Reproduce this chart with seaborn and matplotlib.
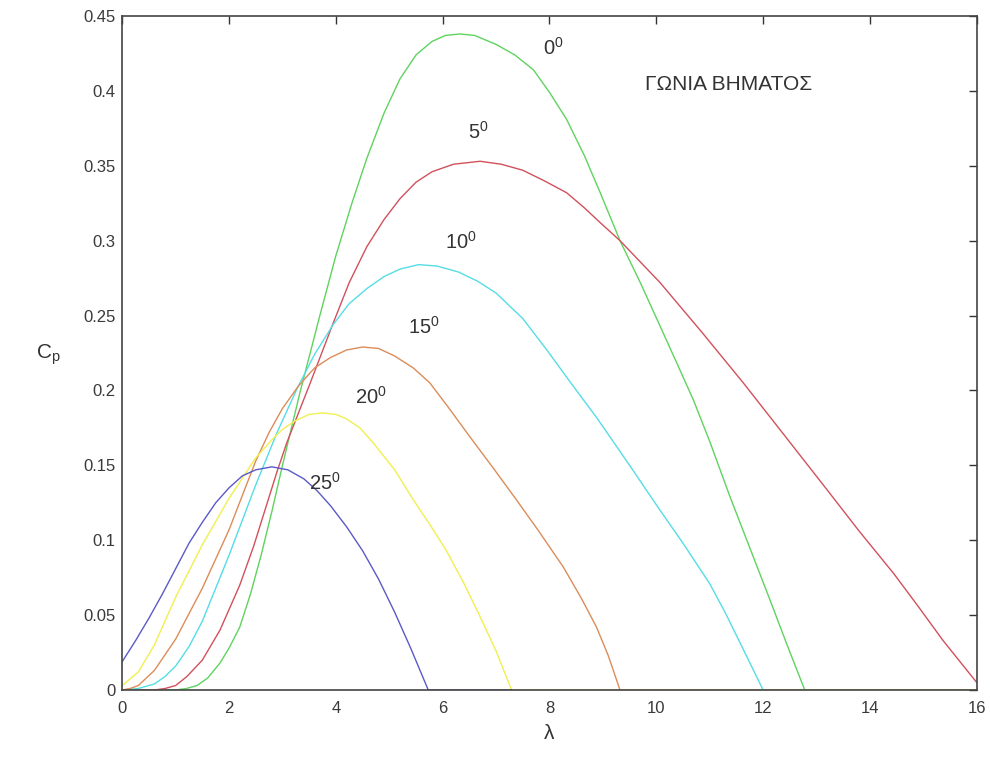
import numpy as np
import pandas as pd
import matplotlib
matplotlib.use("Agg")
import matplotlib.pyplot as plt
import seaborn as sns

# ---- data (lambda, Cp) ----
lam_0 = [0, 1.0, 1.2, 1.4, 1.6, 1.83, 2.0, 2.2, 2.4, 2.6, 2.8, 3.0, 3.33, 3.7, 4.0, 4.3, 4.58, 4.9, 5.2, 5.5, 5.8, 6.05, 6.32, 6.6, 7.0, 7.35, 7.7, 8.0, 8.32, 8.65, 8.95, 9.32, 9.7, 10.07, 10.4, 10.69, 11.0, 11.38, 11.75, 12.13, 12.45, 12.78, 16]
cp_0 = [0, 0.0, 0.001, 0.003, 0.008, 0.018, 0.028, 0.042, 0.064, 0.090, 0.119, 0.150, 0.199, 0.250, 0.290, 0.325, 0.355, 0.385, 0.408, 0.424, 0.433, 0.437, 0.438, 0.437, 0.431, 0.424, 0.414, 0.399, 0.381, 0.357, 0.332, 0.300, 0.272, 0.243, 0.217, 0.194, 0.166, 0.129, 0.095, 0.060, 0.030, 0.0, 0.0]

lam_5 = [0, 0.6, 0.8, 1.0, 1.21, 1.5, 1.83, 2.2, 2.46, 2.9, 3.08, 3.52, 3.95, 4.25, 4.58, 4.9, 5.2, 5.5, 5.8, 6.2, 6.7, 7.1, 7.5, 7.9, 8.32, 8.65, 8.95, 9.32, 10.07, 10.85, 11.63, 12.4, 13.19, 13.8, 14.44, 14.9, 15.37, 16.0]
cp_5 = [0, 0.0, 0.001, 0.003, 0.009, 0.020, 0.040, 0.070, 0.096, 0.146, 0.165, 0.205, 0.245, 0.272, 0.296, 0.314, 0.328, 0.339, 0.346, 0.351, 0.353, 0.351, 0.347, 0.340, 0.332, 0.322, 0.312, 0.300, 0.272, 0.239, 0.205, 0.170, 0.134, 0.106, 0.078, 0.056, 0.033, 0.005]

lam_10 = [0, 0.3, 0.6, 0.8, 1.0, 1.25, 1.5, 2.0, 2.5, 2.9, 3.27, 3.6, 3.95, 4.25, 4.58, 4.9, 5.2, 5.55, 5.9, 6.3, 6.65, 7.0, 7.5, 7.95, 8.4, 8.88, 9.5, 10.07, 10.5, 11.0, 11.3, 11.63, 12.0, 16]
cp_10 = [0, 0.001, 0.004, 0.009, 0.016, 0.029, 0.046, 0.090, 0.137, 0.172, 0.201, 0.224, 0.244, 0.258, 0.268, 0.276, 0.281, 0.284, 0.283, 0.279, 0.273, 0.265, 0.248, 0.227, 0.205, 0.182, 0.150, 0.120, 0.098, 0.071, 0.051, 0.027, 0.0, 0.0]

lam_15 = [0, 0.15, 0.3, 0.6, 1.0, 1.5, 2.0, 2.5, 2.75, 3.0, 3.3, 3.6, 3.9, 4.2, 4.5, 4.8, 5.1, 5.45, 5.76, 6.1, 6.51, 6.95, 7.38, 7.8, 8.26, 8.6, 8.88, 9.1, 9.32, 16]
cp_15 = [0, 0.001, 0.003, 0.013, 0.034, 0.068, 0.107, 0.153, 0.172, 0.188, 0.203, 0.215, 0.222, 0.227, 0.229, 0.228, 0.223, 0.215, 0.205, 0.189, 0.169, 0.148, 0.127, 0.106, 0.082, 0.061, 0.042, 0.023, 0.0, 0.0]

lam_20 = [0, 0.3, 0.6, 1.0, 1.5, 2.0, 2.5, 2.8, 3.0, 3.25, 3.5, 3.75, 4.0, 4.2, 4.45, 4.7, 5.1, 5.45, 5.75, 6.07, 6.4, 6.7, 7.0, 7.29, 16]
cp_20 = [0.003, 0.012, 0.030, 0.062, 0.097, 0.128, 0.155, 0.167, 0.174, 0.180, 0.184, 0.185, 0.184, 0.181, 0.175, 0.165, 0.147, 0.127, 0.111, 0.093, 0.071, 0.049, 0.026, 0.0, 0.0]

lam_25 = [0, 0.25, 0.5, 0.75, 1.0, 1.25, 1.5, 1.75, 2.0, 2.25, 2.5, 2.8, 3.1, 3.4, 3.65, 3.9, 4.2, 4.5, 4.8, 5.1, 5.4, 5.73, 7.3]
cp_25 = [0.019, 0.033, 0.048, 0.064, 0.081, 0.098, 0.112, 0.125, 0.135, 0.143, 0.147, 0.149, 0.147, 0.141, 0.133, 0.123, 0.109, 0.093, 0.074, 0.052, 0.028, 0.0, 0.0]

angles = ["0", "5", "10", "15", "20", "25"]
colors = ["#5fd35f", "#d2505c", "#55dde6", "#dc8c5a", "#f0f050", "#5a5ac8"]
label_x = [7.87, 6.47, 6.04, 5.35, 4.36, 3.50]
label_y = [0.429, 0.3725, 0.299, 0.2425, 0.196, 0.138]
title_text = "ΓΩΝΙΑ ΒΗΜΑΤΟΣ"
x_ticks = [0, 2, 4, 6, 8, 10, 12, 14, 16]
y_ticks = [0, 0.05, 0.1, 0.15, 0.2, 0.25, 0.3, 0.35, 0.4, 0.45]
y_ticklabels = ["0", "0.05", "0.1", "0.15", "0.2", "0.25", "0.3", "0.35", "0.4", "0.45"]

series = [(lam_0, cp_0), (lam_5, cp_5), (lam_10, cp_10), (lam_15, cp_15), (lam_20, cp_20), (lam_25, cp_25)]
frames = []
for a, (lx, cy) in zip(angles, series):
    frames.append(pd.DataFrame({"lambda": lx, "Cp": cy, "angle": a}))
df = pd.concat(frames, ignore_index=True)

sns.set_style("white")
plt.rcParams["font.family"] = ["Liberation Sans", "DejaVu Sans"]
plt.rcParams["mathtext.fontset"] = "custom"
plt.rcParams["mathtext.rm"] = "Liberation Sans"
plt.rcParams["mathtext.it"] = "Liberation Sans"

fig = plt.figure(figsize=(9.9, 7.57), dpi=100)
ax = fig.add_axes([0.1235, 0.0885, 0.8631, 0.8904])

sns.lineplot(data=df, x="lambda", y="Cp", hue="angle", hue_order=angles,
             palette=dict(zip(angles, colors)), sort=False, estimator=None,
             linewidth=1.0, legend=False, ax=ax)

ax.set_xlim(0, 16)
ax.set_ylim(0, 0.45)
ax.set_xticks(x_ticks)
ax.set_xticklabels([str(t) for t in x_ticks])
ax.set_yticks(y_ticks)
ax.set_yticklabels(y_ticklabels)
ax.tick_params(direction="in", length=6, width=1, colors="#333333", labelsize=12,
               top=True, right=True, labelcolor="#3a3a3a", pad=5)
ax.tick_params(axis="x", pad=8)
for s in ax.spines.values():
    s.set_visible(True)
    s.set_color("#444444")
    s.set_linewidth(1.2)

ax.set_xlabel("λ", fontsize=15, color="#333333", labelpad=6)
ax.set_ylabel("")
fig.text(0.036, 0.532, "C$_\\mathrm{p}$", fontsize=15, color="#333333", ha="left", va="center")

for a, x, y in zip(angles, label_x, label_y):
    ax.text(x, y, a + "$^{0}$", fontsize=14.5, color="#333333", ha="left", va="center")
ax.text(9.79, 0.404, title_text, fontsize=15, color="#333333", ha="left", va="center")

fig.savefig("out.png", dpi=100)
